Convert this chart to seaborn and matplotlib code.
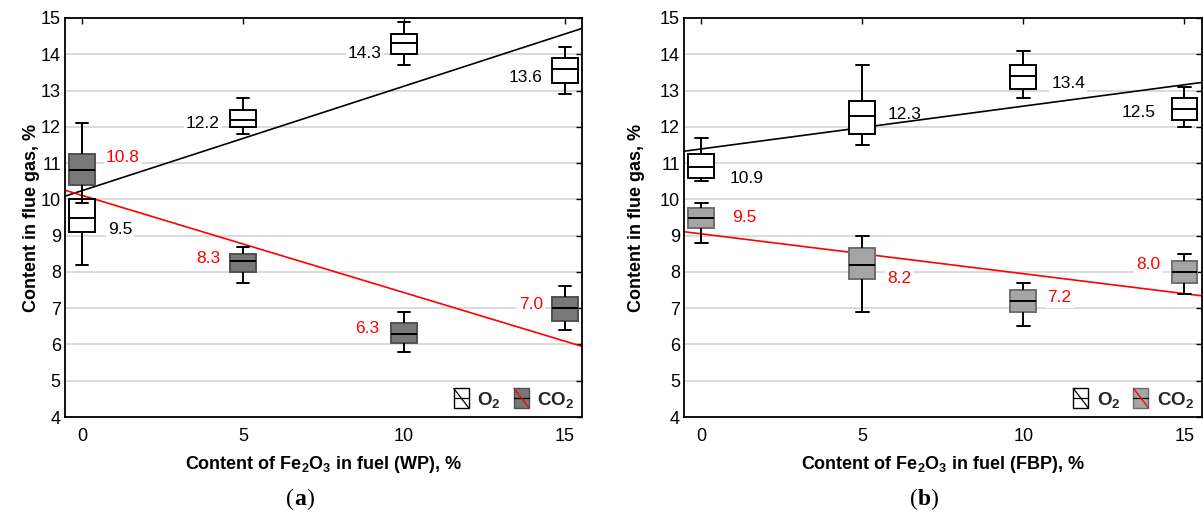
import numpy as np
import pandas as pd
import matplotlib
matplotlib.use("Agg")
import matplotlib.pyplot as plt
import seaborn as sns
from matplotlib.legend_handler import HandlerBase
from matplotlib.patches import Rectangle, Patch
from matplotlib.lines import Line2D

# Fe2O3 additive levels, %
fe2o3 = [0, 5, 10, 15]

# Panel (a): WP fuel, five-number summaries per level (min, Q1, median, Q3, max)
wp_o2_low = [8.2, 11.8, 13.7, 12.9]
wp_o2_q1 = [9.1, 12.0, 14.0, 13.2]
wp_o2_med = [9.5, 12.2, 14.3, 13.6]
wp_o2_q3 = [10.0, 12.45, 14.55, 13.9]
wp_o2_high = [10.0, 12.8, 14.9, 14.2]

wp_co2_low = [9.9, 7.7, 5.8, 6.4]
wp_co2_q1 = [10.4, 8.0, 6.05, 6.65]
wp_co2_med = [10.8, 8.3, 6.3, 7.0]
wp_co2_q3 = [11.25, 8.5, 6.6, 7.3]
wp_co2_high = [12.1, 8.7, 6.9, 7.6]

# Panel (b): FBP fuel
fbp_o2_low = [10.5, 11.5, 12.8, 12.0]
fbp_o2_q1 = [10.6, 11.8, 13.05, 12.2]
fbp_o2_med = [10.9, 12.3, 13.4, 12.5]
fbp_o2_q3 = [11.25, 12.7, 13.7, 12.8]
fbp_o2_high = [11.7, 13.7, 14.1, 13.1]

fbp_co2_low = [8.8, 6.9, 6.5, 7.4]
fbp_co2_q1 = [9.2, 7.8, 6.9, 7.7]
fbp_co2_med = [9.5, 8.2, 7.2, 8.0]
fbp_co2_q3 = [9.75, 8.65, 7.5, 8.3]
fbp_co2_high = [9.9, 9.0, 7.7, 8.5]

y_ticks = list(range(4, 16))

# Label offsets (pixels) and alignment for the median annotations
wp_o2_lab = [(26, -12, "left"), (-23, -4, "right"), (-22, -10, "right"), (-22, -9, "right")]
wp_co2_lab = [(24, 13, "left"), (-23, 3, "right"), (-25, 5, "right"), (-22, 4, "right")]
fbp_o2_lab = [(29, -12, "left"), (25, 1, "left"), (28, -7, "left"), (-29, -3.5, "right")]
fbp_co2_lab = [(31, 0, "left"), (25, -14, "left"), (24, 3, "left"), (-24, 7, "right")]

sns.set_theme(style="white")
plt.rcParams.update({
    "font.family": ["Liberation Sans", "DejaVu Sans"],
    "mathtext.fontset": "custom",
    "mathtext.rm": "Liberation Sans",
    "mathtext.it": "Liberation Sans:italic",
    "mathtext.bf": "Liberation Sans:bold",
    "mathtext.default": "bf",
})

RED = "#ff0000"


def long_frame(lo, q1, med, q3, hi):
    rows = []
    for i, x in enumerate(fe2o3):
        for v in (lo[i], q1[i], med[i], q3[i], hi[i]):
            rows.append((x, v))
    return pd.DataFrame(rows, columns=["fe2o3", "value"])


class BoxGlyph(HandlerBase):
    def __init__(self, face, edge, diag):
        super().__init__()
        self.face, self.edge, self.diag = face, edge, diag

    def create_artists(self, legend, orig_handle, xdescent, ydescent,
                       width, height, fontsize, trans):
        x0, y0 = -xdescent, -ydescent - 1
        h = height + 2
        rect = Rectangle((x0, y0), width, h, facecolor=self.face,
                         edgecolor=self.edge, lw=1.0, transform=trans)
        mid = Line2D([x0, x0 + width], [y0 + h / 2] * 2, color="black",
                     lw=0.9, transform=trans)
        diag = Line2D([x0, x0 + width], [y0 + h, y0], color=self.diag,
                      lw=0.9, transform=trans)
        return [rect, mid, diag]


def draw_panel(ax, o2, co2, o2_lab, co2_lab, co2_fill, co2_edge, fuel,
               ylab_x):
    df_o2 = long_frame(*o2)
    df_co2 = long_frame(*co2)
    black = dict(color="black")
    sns.boxplot(data=df_o2, x="fe2o3", y="value", native_scale=True,
                width=0.16, whis=(0, 100), color="white", saturation=1,
                linecolor="black", linewidth=1.4, showfliers=False, ax=ax)
    sns.boxplot(data=df_co2, x="fe2o3", y="value", native_scale=True,
                width=0.16, whis=(0, 100), color=co2_fill, saturation=1,
                linecolor=co2_edge, linewidth=1.4, showfliers=False,
                medianprops=black, whiskerprops=black, capprops=black, ax=ax)

    ax.set_xlim(-0.53, 15.53)
    ax.set_ylim(4, 15)
    med_o2, med_co2 = o2[2], co2[2]
    sns.regplot(x=fe2o3, y=med_o2, scatter=False, ci=None, truncate=False,
                color="black", line_kws=dict(lw=1.2, zorder=1.8), ax=ax)
    sns.regplot(x=fe2o3, y=med_co2, scatter=False, ci=None, truncate=False,
                color=RED, line_kws=dict(lw=1.2, zorder=1.8), ax=ax)
    ax.set_xlim(-0.53, 15.53)
    ax.set_ylim(4, 15)

    for meds, labs, col in ((med_o2, o2_lab, "black"), (med_co2, co2_lab, RED)):
        for x, v, (dx, dy, ha) in zip(fe2o3, meds, labs):
            ax.annotate(f"{v:.1f}", (x, v), xytext=(dx, dy),
                        textcoords="offset pixels", ha=ha, va="center",
                        color=col, fontsize=12.5, zorder=1.6,
                        bbox=dict(boxstyle="square,pad=0.12", fc="white",
                                  ec="none"))

    ax.set_xticks(fe2o3)
    ax.set_yticks(y_ticks)
    ax.yaxis.grid(True, color="#d4d4d4", lw=1.2)
    ax.xaxis.grid(False)
    ax.set_axisbelow(True)
    for s in ax.spines.values():
        s.set_visible(True)
        s.set_color("black")
        s.set_linewidth(1.3)
    ax.tick_params(direction="in", length=4, width=1, top=True, right=True,
                   colors="black", labelsize=13)
    ax.tick_params(axis="x", pad=8)
    ax.tick_params(axis="y", pad=3)

    ax.set_xlabel(f"Content of Fe$_2$O$_3$ in fuel ({fuel}), %",
                  fontsize=13, fontweight="bold", color="black")
    ax.set_ylabel("Content in flue gas, %", fontsize=13, fontweight="bold",
                  color="black")
    ax.xaxis.set_label_coords(0.5, -0.12)
    ax.xaxis.label.set_va("center")
    ax.yaxis.set_label_coords(ylab_x, 0.5)
    ax.yaxis.label.set_va("center")

    h1, h2 = Patch(), Patch()
    ax.legend([h1, h2], ["O$_2$", "CO$_2$"],
              handler_map={h1: BoxGlyph("white", "black", "black"),
                           h2: BoxGlyph(co2_fill, co2_edge, RED)},
              loc="lower right", ncol=2, frameon=False,
              prop=dict(weight="bold", size=13.5),
              handlelength=0.8, handleheight=1.0, handletextpad=0.45,
              columnspacing=0.7, borderaxespad=0.15, borderpad=0.25)


fig = plt.figure(figsize=(12.03, 5.17), dpi=100)
ax_a = fig.add_axes([0.054, 0.1934, 0.4298, 0.7718])
ax_b = fig.add_axes([0.5686, 0.1934, 0.4302, 0.7718])

draw_panel(ax_a,
           (wp_o2_low, wp_o2_q1, wp_o2_med, wp_o2_q3, wp_o2_high),
           (wp_co2_low, wp_co2_q1, wp_co2_med, wp_co2_q3, wp_co2_high),
           wp_o2_lab, wp_co2_lab, "#787878", "#505050", "WP", -0.064)
draw_panel(ax_b,
           (fbp_o2_low, fbp_o2_q1, fbp_o2_med, fbp_o2_q3, fbp_o2_high),
           (fbp_co2_low, fbp_co2_q1, fbp_co2_med, fbp_co2_q3, fbp_co2_high),
           fbp_o2_lab, fbp_co2_lab, "#a5a5a5", "#6e6e6e", "FBP", -0.091)

# Panel captions: bold letter in regular parentheses
for xc, letter, ax in ((300 / 1203, "a", ax_a), (924 / 1203, "b", ax_b)):
    yc = 1 - 505 / 517
    t = fig.text(xc, yc, letter, ha="center", va="baseline", fontsize=17,
                 fontweight="bold", family="Liberation Serif", color="black")
    ax.annotate("(", xy=(0, yc), xycoords=(t, "figure fraction"),
                ha="right", va="baseline", fontsize=17,
                family="Liberation Serif", color="black",
                annotation_clip=False)
    ax.annotate(")", xy=(1, yc), xycoords=(t, "figure fraction"),
                ha="left", va="baseline", fontsize=17,
                family="Liberation Serif", color="black",
                annotation_clip=False)

fig.savefig("out.png", dpi=100)
